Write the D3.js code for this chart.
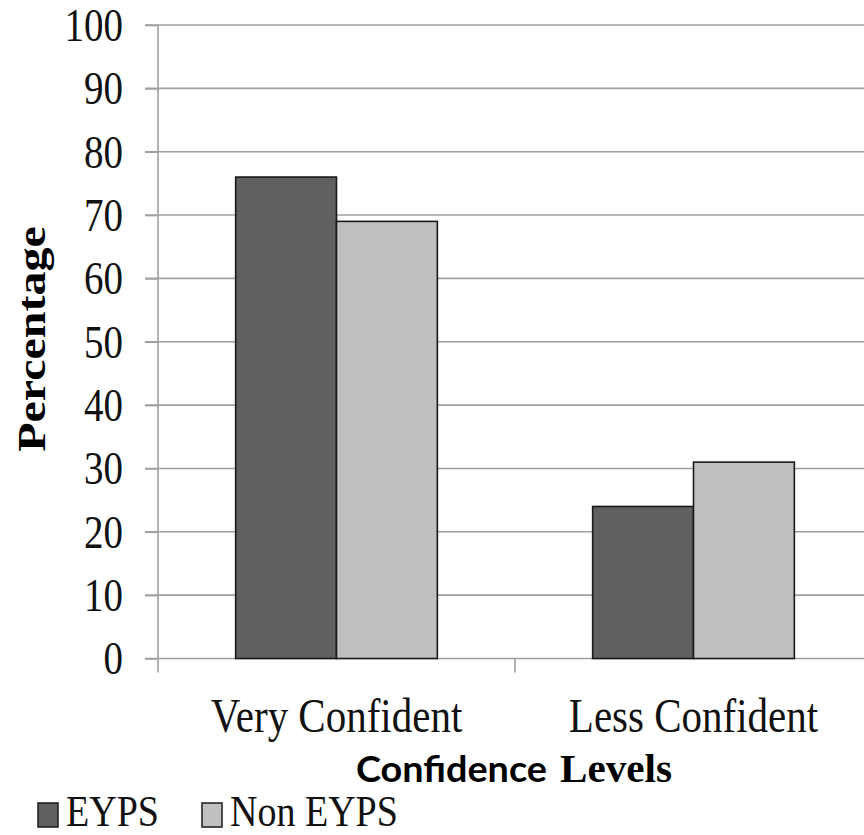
<!DOCTYPE html>
<html>
<head>
<meta charset="utf-8">
<script src="https://cdn.jsdelivr.net/npm/d3@7"></script>
<style>
  html, body { margin: 0; padding: 0; background: #fff; }
  svg { display: block; }
</style>
</head>
<body>
<svg id="chart" width="864" height="835"></svg>
<script>
// ---- data ----
const categories = ["Very Confident", "Less Confident"];
const seriesNames = ["EYPS", "Non EYPS"];
const eyps = [76, 24];
const nonEyps = [69, 31];
const yTicks = [0, 10, 20, 30, 40, 50, 60, 70, 80, 90, 100];
const yTitle = "Percentage";
const xTitleA = "Confidence";
const xTitleB = "Levels";

const seriesValues = [eyps, nonEyps];
const colors = ["#606060", "#c0c0c0"];

const svg = d3.select("#chart");
const W = 864;
const left = 158, right = 872, y0px = 658.5, y100px = 25;
const serif = "'Liberation Serif', 'Times New Roman', serif";
const SY = 1.2;

const x = d3.scaleBand().domain(categories).range([left, right]).padding(0);
const x1 = d3.scaleBand().domain(seriesNames).range([0, x.bandwidth()]).paddingInner(0).paddingOuter(0.77);
const y = d3.scaleLinear().domain([0, 100]).range([y0px, y100px]);

// gridlines
svg.append("g").selectAll("line").data(yTicks).join("line")
  .attr("x1", left - 13).attr("x2", W)
  .attr("y1", d => y(d)).attr("y2", d => y(d))
  .attr("stroke", "#a0a0a0").attr("stroke-width", 1.6);

// y axis
const yAxis = svg.append("g").attr("transform", `translate(${left},0)`)
  .call(d3.axisLeft(y).tickValues(yTicks).tickSize(13).tickPadding(22));
yAxis.select(".domain").remove();
yAxis.selectAll(".tick line").attr("stroke", "#a0a0a0").attr("stroke-width", 1.6);
yAxis.selectAll(".tick text")
  .attr("font-family", serif).attr("font-size", 39).attr("fill", "#111")
  .attr("dy", "0.33em")
  .attr("transform", `scale(1,${SY})`);

svg.append("line")
  .attr("x1", left).attr("x2", left).attr("y1", y(100)).attr("y2", y(0) + 14)
  .attr("stroke", "#a0a0a0").attr("stroke-width", 1.6);

// category boundary ticks
const bounds = categories.map(c => x(c)).concat([x(categories[categories.length - 1]) + x.bandwidth()]);
svg.append("g").selectAll("line").data(bounds.slice(1)).join("line")
  .attr("x1", d => d).attr("x2", d => d)
  .attr("y1", y(0)).attr("y2", y(0) + 14)
  .attr("stroke", "#a0a0a0").attr("stroke-width", 1.6);

// bars
const groups = svg.append("g").selectAll("g").data(categories).join("g")
  .attr("transform", c => `translate(${x(c)},0)`);
groups.selectAll("rect")
  .data((c, i) => seriesNames.map((s, j) => ({ s, j, v: seriesValues[j][i] })))
  .join("rect")
  .attr("x", d => x1(d.s))
  .attr("width", x1.bandwidth())
  .attr("y", d => y(d.v))
  .attr("height", d => y(0) - y(d.v))
  .attr("fill", d => colors[d.j])
  .attr("stroke", "#1a1a1a").attr("stroke-width", 1.6);

// category labels
svg.append("g").selectAll("text").data(categories).join("text")
  .attr("transform", c => `translate(${x(c) + x.bandwidth() / 2},732) scale(1,${SY})`)
  .attr("text-anchor", "middle")
  .attr("font-family", serif).attr("font-size", 41).attr("fill", "#111")
  .text(d => d);

// x title
svg.append("text")
  .attr("x", 356).attr("y", 782)
  .attr("font-family", "Lato, 'Open Sans', sans-serif").attr("font-weight", "bold")
  .attr("font-size", 36).attr("fill", "#000")
  .attr("textLength", 191).attr("lengthAdjust", "spacingAndGlyphs")
  .text(xTitleA);
svg.append("text")
  .attr("x", 560).attr("y", 782)
  .attr("font-family", serif).attr("font-weight", "bold")
  .attr("font-size", 40).attr("fill", "#000")
  .attr("textLength", 112).attr("lengthAdjust", "spacingAndGlyphs")
  .text(xTitleB);

// y title
svg.append("text")
  .attr("transform", `translate(45,339) scale(1,${SY}) rotate(-90)`)
  .attr("text-anchor", "middle")
  .attr("font-family", serif).attr("font-weight", "bold")
  .attr("font-size", 40).attr("fill", "#000")
  .text(yTitle);

// legend
const legendX = [38, 202];
const leg = svg.append("g").selectAll("g").data(seriesNames).join("g")
  .attr("transform", (d, i) => `translate(${legendX[i]},0)`);
leg.append("rect")
  .attr("x", 0).attr("y", 803).attr("width", 20).attr("height", 24)
  .attr("fill", (d, i) => colors[i]).attr("stroke", "#1a1a1a").attr("stroke-width", 1.5);
leg.append("text")
  .attr("transform", `translate(28,826) scale(1,1.15)`)
  .attr("font-family", serif).attr("font-size", 38).attr("fill", "#111")
  .text(d => d);
</script>
</body>
</html>
